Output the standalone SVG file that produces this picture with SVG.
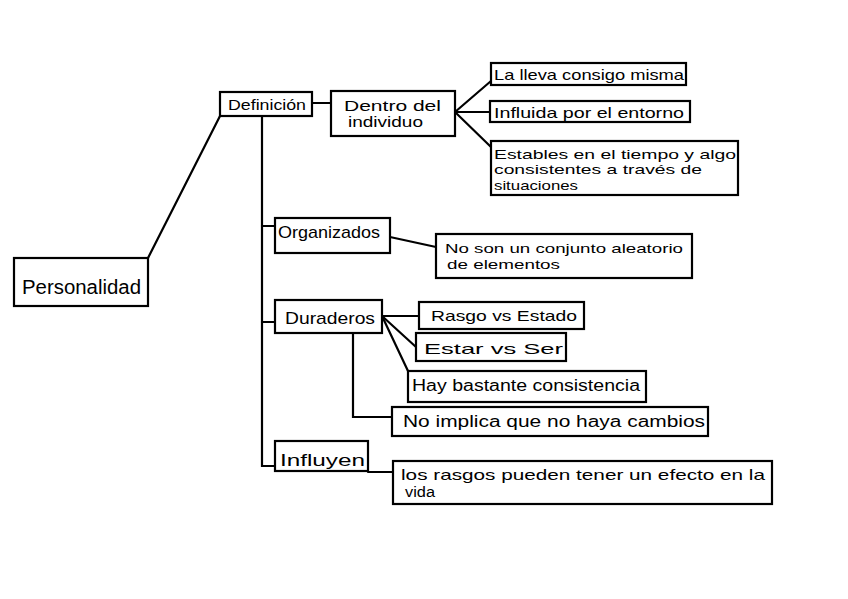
<svg xmlns="http://www.w3.org/2000/svg" width="848" height="599" viewBox="0 0 848 599">
<style>
rect{fill:#fff;stroke:#000;stroke-width:2.2}
.c line,.c polyline{fill:none;stroke:#000;stroke-width:2.2;stroke-linecap:round}
text{font-family:"Liberation Sans",Arial,sans-serif;font-size:15px;fill:#000}
.m{font-size:13.5px}
</style>
<rect x="0" y="0" width="848" height="599" style="stroke:none"/>
<g class="c" id="connectors">
<line x1="148" y1="258" x2="220" y2="116"/>
<line x1="312" y1="103" x2="331" y2="103"/>
<polyline points="262,116 262,466 275,466"/>
<line x1="262" y1="226" x2="275" y2="226"/>
<line x1="262" y1="322" x2="275" y2="322"/>
<line x1="455" y1="112" x2="491" y2="81"/>
<line x1="455" y1="112" x2="490" y2="112"/>
<line x1="455" y1="112" x2="491" y2="147"/>
<line x1="390" y1="237" x2="436" y2="247"/>
<line x1="382" y1="316" x2="419" y2="316"/>
<line x1="382" y1="316" x2="416" y2="347"/>
<line x1="382" y1="316" x2="408" y2="371"/>
<polyline points="353,333 353,417 392,417"/>
<line x1="368" y1="472" x2="393" y2="472"/>
</g>
<g id="personalidad"><rect x="14" y="258" width="134" height="48"/><text x="22" y="294" style="font-size:20px" textLength="119" lengthAdjust="spacingAndGlyphs">Personalidad</text></g>
<g id="definicion"><rect x="220" y="92" width="92" height="24"/><text x="228" y="110" textLength="78" lengthAdjust="spacingAndGlyphs">Definición</text></g>
<g id="dentro"><rect x="331" y="91" width="124" height="45"/><text x="344" y="111" textLength="97" lengthAdjust="spacingAndGlyphs">Dentro del</text><text x="348" y="127" textLength="75" lengthAdjust="spacingAndGlyphs">individuo</text></g>
<g id="lleva"><rect x="491" y="63" width="195" height="22"/><text x="494" y="80" textLength="190" lengthAdjust="spacingAndGlyphs">La lleva consigo misma</text></g>
<g id="influida"><rect x="490" y="101" width="200" height="21"/><text x="494" y="118" textLength="190" lengthAdjust="spacingAndGlyphs">Influida por el entorno</text></g>
<g id="estables"><rect x="491" y="141" width="247" height="54"/><text class="m" x="494" y="159" textLength="242" lengthAdjust="spacingAndGlyphs">Estables en el tiempo y algo</text><text class="m" x="494" y="174" textLength="208" lengthAdjust="spacingAndGlyphs">consistentes a través de</text><text class="m" x="494" y="190" textLength="84" lengthAdjust="spacingAndGlyphs">situaciones</text></g>
<g id="organizados"><rect x="275" y="218" width="115" height="35"/><text x="278" y="238" style="font-size:17px" textLength="102" lengthAdjust="spacingAndGlyphs">Organizados</text></g>
<g id="noson"><rect x="436" y="234" width="256" height="44"/><text class="m" x="445" y="253" textLength="238" lengthAdjust="spacingAndGlyphs">No son un conjunto aleatorio</text><text class="m" x="447" y="269" textLength="113" lengthAdjust="spacingAndGlyphs">de elementos</text></g>
<g id="duraderos"><rect x="275" y="300" width="107" height="33"/><text x="285" y="324" style="font-size:17px" textLength="90" lengthAdjust="spacingAndGlyphs">Duraderos</text></g>
<g id="rasgo"><rect x="419" y="302" width="165" height="27"/><text x="431" y="321" textLength="146" lengthAdjust="spacingAndGlyphs">Rasgo vs Estado</text></g>
<g id="estar"><rect x="416" y="333" width="150" height="28"/><text x="424" y="354" style="font-size:15px" textLength="139" lengthAdjust="spacingAndGlyphs">Estar vs Ser</text></g>
<g id="hay"><rect x="408" y="371" width="238" height="31"/><text x="412" y="391" style="font-size:16px" textLength="228" lengthAdjust="spacingAndGlyphs">Hay bastante consistencia</text></g>
<g id="noimplica"><rect x="392" y="407" width="316" height="29"/><text x="403" y="427" style="font-size:16px" textLength="302" lengthAdjust="spacingAndGlyphs">No implica que no haya cambios</text></g>
<g id="influyen"><rect x="275" y="441" width="93" height="30"/><text x="280" y="466" style="font-size:16px" textLength="85" lengthAdjust="spacingAndGlyphs">Influyen</text></g>
<g id="rasgos"><rect x="393" y="461" width="379" height="43"/><text x="401" y="480" style="font-size:15px" textLength="364" lengthAdjust="spacingAndGlyphs">los rasgos pueden tener un efecto en la</text><text x="405" y="497" style="font-size:14px" textLength="30" lengthAdjust="spacingAndGlyphs">vida</text></g>
</svg>
